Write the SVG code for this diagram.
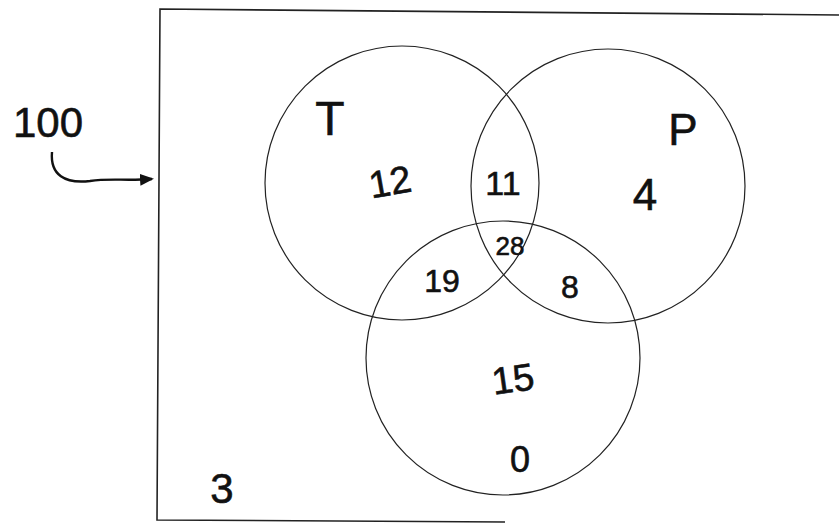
<svg xmlns="http://www.w3.org/2000/svg" width="839" height="527" viewBox="0 0 839 527">
<style>
.frame{fill:none;stroke:#222;stroke-width:1.6}
.set{fill:none;stroke:#222;stroke-width:1.2}
.lbl{font-family:"Liberation Sans",Arial,sans-serif;fill:#111;text-anchor:middle;stroke:#111;stroke-width:0.6}
.conn{fill:none;stroke:#111;stroke-width:2.4}
</style>
<defs>
<marker id="ah" markerWidth="14" markerHeight="14" refX="12" refY="7" orient="auto" markerUnits="userSpaceOnUse">
<path d="M0,1 L14,7 L0,13 Z" fill="#111"/>
</marker>
</defs>
<rect width="839" height="527" fill="#fff"/>
<g id="frame">
<path class="frame" d="M839,15 L160,9 L157,520 L505,522"/>
</g>
<g id="set-T">
<circle class="set" cx="402" cy="183" r="137"/>
<text class="lbl" x="330" y="135" font-size="48">T</text>
</g>
<g id="set-P">
<circle class="set" cx="608" cy="186" r="137"/>
<text class="lbl" x="683" y="145" font-size="44">P</text>
</g>
<g id="set-C">
<circle class="set" cx="503" cy="358" r="137"/>
</g>
<g id="regions">
<text class="lbl" x="390" y="195" font-size="38" transform="rotate(-10 390 182)">12</text>
<text class="lbl" x="503" y="195" font-size="34">11</text>
<text class="lbl" x="645" y="210" font-size="44">4</text>
<text class="lbl" x="510" y="255" font-size="26">28</text>
<text class="lbl" x="442" y="292" font-size="32">19</text>
<text class="lbl" x="570" y="298" font-size="32">8</text>
<text class="lbl" x="513" y="392" font-size="38" transform="rotate(-8 513 380)">15</text>
<text class="lbl" x="520" y="472" font-size="36">0</text>
<text class="lbl" x="222" y="503" font-size="42">3</text>
</g>
<g id="universe-label">
<text class="lbl" x="48" y="137" font-size="42">100</text>
</g>
<g id="connectors">
<path class="conn" d="M52,152 C50,175 65,184 90,181 C110,178 125,181 152,179" marker-end="url(#ah)"/>
</g>
</svg>
